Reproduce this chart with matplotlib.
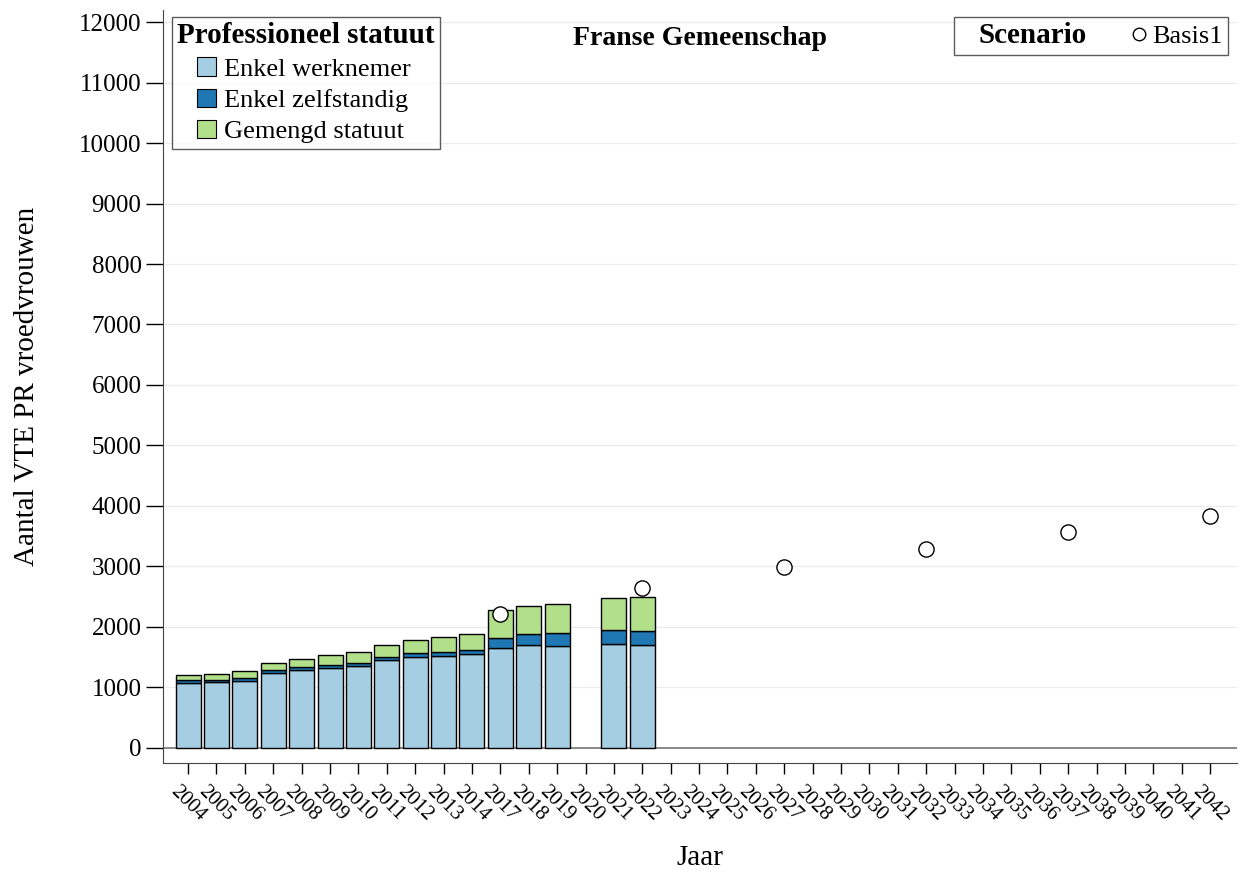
"""Franse Gemeenschap - VTE PR vroedvrouwen."""

import matplotlib
matplotlib.use("Agg")
import matplotlib.pyplot as plt
from matplotlib.lines import Line2D
from matplotlib.legend_handler import HandlerPatch
import numpy as np

plt.rcParams['font.family'] = ['Liberation Serif', 'DejaVu Serif']

years = [str(y) for y in list(range(2004, 2015)) + list(range(2017, 2043))]

bar_years = ['2004', '2005', '2006', '2007', '2008', '2009', '2010', '2011', '2012',
             '2013', '2014', '2017', '2018', '2019', '2021', '2022']
werknemer = [1075, 1090, 1110, 1240, 1290, 1320, 1350, 1455, 1510,
             1515, 1550, 1645, 1700, 1690, 1720, 1700]
zelfstandig = [40, 40, 45, 40, 45, 45, 50, 55, 55,
               65, 70, 165, 180, 215, 225, 240]
gemengd = [85, 90, 110, 120, 135, 165, 185, 195, 220,
           250, 260, 465, 460, 480, 535, 550]

scen_years = ['2017', '2022', '2027', '2032', '2037', '2042']
basis1 = [2220, 2650, 2990, 3290, 3570, 3835]

colors = ['#a6cee3', '#1f78b4', '#b2df8a']
labels = ['Enkel werknemer', 'Enkel zelfstandig', 'Gemengd statuut']


def square(legend, orig_handle, xdescent, ydescent, width, height, fontsize):
    """Square legend key pushed to the right side of the handle box (indent)."""
    return plt.Rectangle((width - height - xdescent, -ydescent), height, height)


fig = plt.figure(figsize=(12.45, 8.75), dpi=100)
ax = fig.add_axes([0.131, 0.128, 0.8626, 0.8606])

pos = {y: i for i, y in enumerate(years)}
xb = np.array([pos[y] for y in bar_years])
w = np.array(werknemer)
z = np.array(zelfstandig)
g = np.array(gemengd)

ax.grid(axis='y', color='#ebebeb', linewidth=0.8)
ax.set_axisbelow(True)
ax.axhline(0, color='#777777', linewidth=1.2, zorder=1)

width = 0.88
ax.bar(xb, w, width, color=colors[0], edgecolor='black', linewidth=1, zorder=2)
ax.bar(xb, z, width, bottom=w, color=colors[1], edgecolor='black', linewidth=1, zorder=2)
ax.bar(xb, g, width, bottom=w + z, color=colors[2], edgecolor='black', linewidth=1, zorder=2)

xs = [pos[y] for y in scen_years]
ax.scatter(xs, basis1, s=120, facecolor='white', edgecolor='black', linewidth=1, zorder=3)

ax.set_xlim(-0.88, 36.95)
ax.set_ylim(-250, 12200)
ax.set_yticks(np.arange(0, 12001, 1000))
ax.set_xticks(range(len(years)))
ax.set_xticklabels(years, rotation=-45, ha='center', fontsize=15)
ax.tick_params(axis='y', labelsize=18, length=12, width=1)
ax.tick_params(axis='x', length=8, width=1, pad=6)

for s in ['top', 'right']:
    ax.spines[s].set_visible(False)
for s in ['left', 'bottom']:
    ax.spines[s].set_color('#444444')

ax.set_ylabel('Aantal VTE PR vroedvrouwen', fontsize=21, labelpad=28)
ax.set_xlabel('Jaar', fontsize=21, labelpad=14)

ax.text(0.5, 0.962, 'Franse Gemeenschap', transform=ax.transAxes, ha='center', va='center',
        fontsize=20, fontweight='bold')

handles = [plt.Rectangle((0, 0), 1, 1, facecolor=c, edgecolor='black', linewidth=0.8) for c in colors]
leg1 = ax.legend(handles, labels, title='Professioneel statuut', loc='upper left',
                 bbox_to_anchor=(0.0084, 0.9907), borderaxespad=0, fontsize=19,
                 title_fontproperties={'weight': 'bold', 'size': 21},
                 alignment='left', frameon=True, fancybox=False, edgecolor='#333333',
                 handlelength=1.45, handleheight=0.7, handletextpad=0.3,
                 labelspacing=0.3, borderpad=0.2,
                 handler_map={plt.Rectangle: HandlerPatch(patch_func=square)})
leg1.get_frame().set_linewidth(1)
ax.add_artist(leg1)

h_blank = Line2D([], [], linestyle='none', marker=None)
h_circ = Line2D([], [], linestyle='none', marker='o', markersize=9,
                markerfacecolor='white', markeredgecolor='black')
leg2 = ax.legend([h_blank, h_circ], ['Scenario', 'Basis1'], ncol=2, loc='upper right',
                 bbox_to_anchor=(0.9916, 0.9907), borderaxespad=0, fontsize=19,
                 frameon=True, fancybox=False, edgecolor='#333333',
                 handlelength=0.4, handletextpad=0.3, columnspacing=1.8, borderpad=0.2)
leg2.get_frame().set_linewidth(1)
leg2.get_texts()[0].set_fontweight('bold')
leg2.get_texts()[0].set_fontsize(21)

fig.savefig('out.png', dpi=100)
